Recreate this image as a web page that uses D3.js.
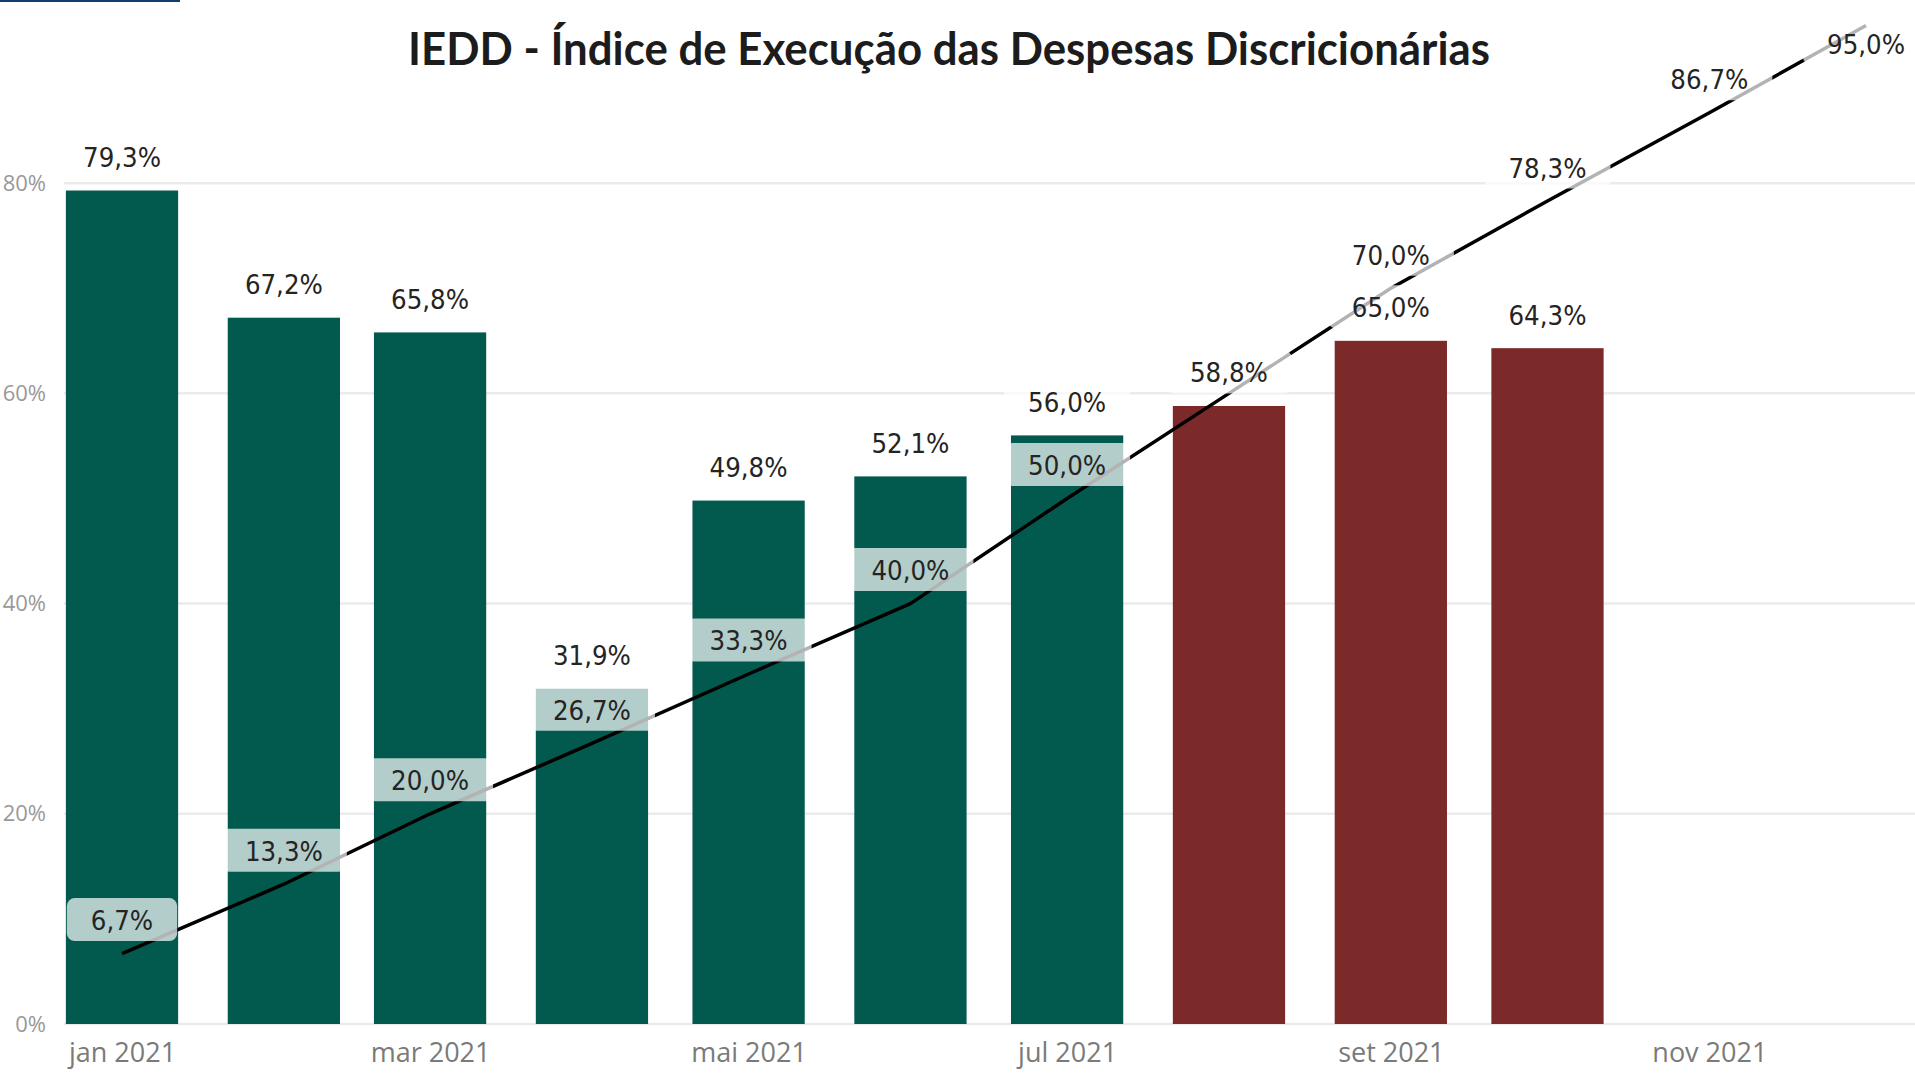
<!DOCTYPE html>
<html>
<head>
<meta charset="utf-8">
<script src="https://cdn.jsdelivr.net/npm/d3@7"></script>
<style>
  html, body { margin: 0; padding: 0; background: #ffffff; }
  svg { display: block; }
</style>
</head>
<body>
<svg id="chart" width="1915" height="1080"></svg>
<script>
// ---------------- DATA ----------------
const chartTitle = "IEDD - Índice de Execução das Despesas Discricionárias";
const barMonths = ["2021-01-01","2021-02-01","2021-03-01","2021-04-01","2021-05-01",
                   "2021-06-01","2021-07-01","2021-08-01","2021-09-01","2021-10-01"];
const barValues = [79.3, 67.2, 65.8, 31.9, 49.8, 52.1, 56.0, 58.8, 65.0, 64.3];
const barStatus = ["a","a","a","a","a","a","a","b","b","b"];
const lineMonths = ["2021-01-01","2021-02-01","2021-03-01","2021-04-01","2021-05-01","2021-06-01",
                    "2021-07-01","2021-08-01","2021-09-01","2021-10-01","2021-11-01","2021-12-01"];
const lineValues = [6.7, 13.3, 20.0, 26.7, 33.3, 40.0, 50.0, 60.0, 70.0, 78.3, 86.7, 95.0];
const yTicks = [0, 20, 40, 60, 80];
const xTickMonths = ["2021-01-01","2021-03-01","2021-05-01","2021-07-01","2021-09-01","2021-11-01"];
const xTickLabels = ["jan 2021","mar 2021","mai 2021","jul 2021","set 2021","nov 2021"];

// ---------------- LAYOUT / STYLE ----------------
const W = 1915, H = 1080;
const parse = d3.utcParse("%Y-%m-%d");
const colorMap = { a: "#02594d", b: "#7b2a29" };
const labelFont = "'Liberation Sans Narrow', 'DejaVu Sans Condensed', 'Arial Narrow', sans-serif";
const axisFont = "'Open Sans', 'Noto Sans', sans-serif";

const svg = d3.select("#chart");

const x = d3.scaleUtc()
  .domain([parse("2021-01-01"), parse("2021-12-01")])
  .range([122, 1866]);
const y = d3.scaleLinear().domain([0, 95]).range([1024, 25.5]);

const barHalfDays = 10.75; // half bar width in days
const fmt = v => d3.format(".1f")(v).replace(".", ",") + "%";

// calibrate data-label font size so "79,3%" is ~78px wide
const probe = svg.append("text")
  .style("font-family", labelFont).style("font-size", "30px").text("79,3%");
const probeW = probe.node().getComputedTextLength();
probe.remove();
const labelSize = Math.max(24, Math.min(34, 30 * 78 / probeW));

// top-left accent line
svg.append("rect").attr("x", 0).attr("y", 0).attr("width", 180).attr("height", 2).attr("fill", "#0d3f6e");

// title
svg.append("text")
  .attr("x", 408).attr("y", 65)
  .attr("textLength", 1082).attr("lengthAdjust", "spacingAndGlyphs")
  .style("font-family", "Lato, 'Open Sans', sans-serif")
  .style("font-weight", 700).style("font-size", "45px")
  .attr("fill", "#1c1c1c")
  .text(chartTitle);

// gridlines
const gridG = svg.append("g");
gridG.selectAll("line").data(yTicks).join("line")
  .attr("x1", 64).attr("x2", W)
  .attr("y1", d => y(d)).attr("y2", d => y(d))
  .attr("stroke", "#ebebeb").attr("stroke-width", 2.5);

// y axis labels
const yAxis = d3.axisLeft(y).tickValues(yTicks).tickFormat(d => d + "%").tickSize(0).tickPadding(0);
const yG = svg.append("g").attr("transform", "translate(46,0)").call(yAxis);
yG.select(".domain").remove();
yG.selectAll("text")
  .style("font-family", axisFont).style("font-size", "22px").attr("fill", "#999999");

// x axis labels
const xAxis = d3.axisBottom(x)
  .tickValues(xTickMonths.map(parse))
  .tickFormat((d, i) => xTickLabels[i])
  .tickSize(0).tickPadding(0);
const xG = svg.append("g").attr("transform", "translate(0,1043)").call(xAxis);
xG.select(".domain").remove();
xG.selectAll("text")
  .style("font-family", axisFont).style("font-size", "27px").attr("fill", "#7a7a7a");

// bars
const barData = barMonths.map((m, i) => ({ date: parse(m), value: barValues[i], status: barStatus[i] }));
const dayMs = 864e5;
svg.append("g").selectAll("rect").data(barData).join("rect")
  .attr("x", d => x(new Date(+d.date - barHalfDays * dayMs)))
  .attr("width", d => x(new Date(+d.date + barHalfDays * dayMs)) - x(new Date(+d.date - barHalfDays * dayMs)))
  .attr("y", d => y(d.value))
  .attr("height", d => y(0) - y(d.value))
  .attr("fill", d => colorMap[d.status]);

// line
const lineData = lineMonths.map((m, i) => ({ date: parse(m), value: lineValues[i] }));
svg.append("path").datum(lineData)
  .attr("d", d3.line().x(d => x(d.date)).y(d => y(d.value)))
  .attr("fill", "none").attr("stroke", "#000").attr("stroke-width", 3.5)
  .attr("stroke-linejoin", "round");

// labels with collision handling
const labelG = svg.append("g");
const placed = [];
const boxH = 43, offset = 34, pad = 24;
function overlaps(b) {
  return placed.some(p => !(b.x1 < p.x0 || b.x0 > p.x1 || b.y1 < p.y0 || b.y0 > p.y1));
}
function addLabel(cx, cyPoint, value, allowBelow) {
  const g = labelG.append("g");
  const t = g.append("text")
    .style("font-family", labelFont).style("font-size", labelSize + "px")
    .attr("fill", "#252423").attr("text-anchor", "middle")
    .text(fmt(value));
  const tw = t.node().getComputedTextLength();
  const bw = tw + pad * 2;
  let cy = cyPoint - offset;
  if (cy - boxH / 2 < 0 && allowBelow) cy = cyPoint + 18;
  const box = { x0: cx - bw / 2, x1: cx + bw / 2, y0: cy - boxH / 2, y1: cy + boxH / 2 };
  if (overlaps(box)) { g.remove(); return; }
  placed.push(box);
  g.insert("rect", "text")
    .attr("x", box.x0).attr("y", box.y0).attr("width", bw).attr("height", boxH)
    .attr("rx", 8).attr("fill", "#ffffff").attr("fill-opacity", 0.7);
  t.attr("x", cx).attr("y", cy + 10.5);
}
barData.forEach(d => addLabel(x(d.date), y(d.value), d.value, false));
lineData.forEach(d => addLabel(x(d.date), y(d.value), d.value, true));
</script>
</body>
</html>
